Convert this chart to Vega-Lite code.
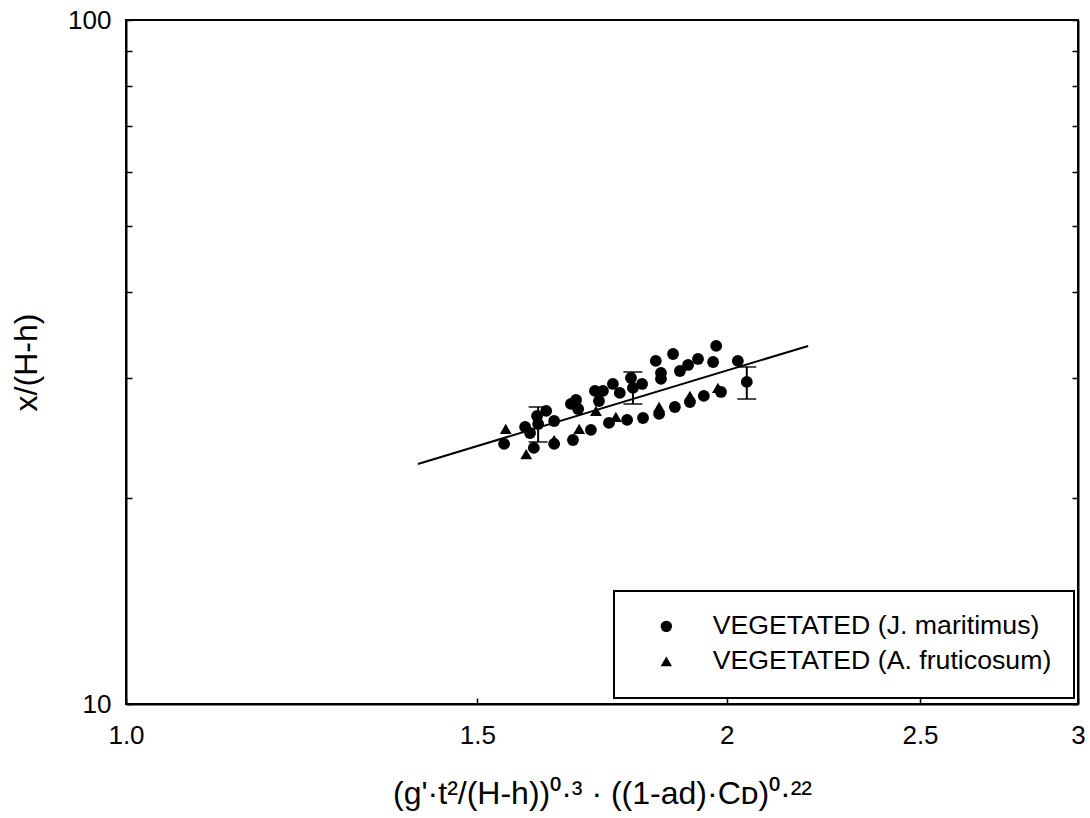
{
  "$schema": "https://vega.github.io/schema/vega-lite/v6.json",
  "width": 952,
  "height": 684,
  "autosize": {"type": "none"},
  "padding": {"left": 126, "top": 20, "right": 12, "bottom": 114},
  "background": "white",
  "config": {
    "font": "Liberation Sans",
    "view": {"stroke": "black", "strokeWidth": 2},
    "legend": {"strokeColor": "black", "strokeWidth": 2},
    "axis": {
      "grid": false,
      "domainColor": "black",
      "domainWidth": 2,
      "tickColor": "black",
      "tickWidth": 1.5,
      "tickSize": -6,
      "labelColor": "black",
      "labelFont": "Liberation Sans",
      "labelFontSize": 26,
      "labelFlush": false,
      "labelOverlap": false,
      "titleColor": "black",
      "titleFont": "Liberation Sans",
      "titleFontSize": 32,
      "titleFontWeight": "normal"
    },
    "axisX": {
      "labelExpr": "datum.value == 1 ? '1.0' : toString(datum.value)",
      "labelPadding": 24,
      "titlePadding": 30
    }
  },
  "datasets": {
    "points": [
      {"x": 1.585, "y": 25.41, "series": "VEGETATED (J. maritimus)"},
      {"x": 1.594, "y": 24.90, "series": "VEGETATED (J. maritimus)"},
      {"x": 1.607, "y": 26.37, "series": "VEGETATED (J. maritimus)"},
      {"x": 1.609, "y": 25.67, "series": "VEGETATED (J. maritimus)"},
      {"x": 1.624, "y": 26.82, "series": "VEGETATED (J. maritimus)"},
      {"x": 1.639, "y": 25.93, "series": "VEGETATED (J. maritimus)"},
      {"x": 1.671, "y": 27.46, "series": "VEGETATED (J. maritimus)"},
      {"x": 1.681, "y": 27.83, "series": "VEGETATED (J. maritimus)"},
      {"x": 1.685, "y": 27.00, "series": "VEGETATED (J. maritimus)"},
      {"x": 1.718, "y": 28.69, "series": "VEGETATED (J. maritimus)"},
      {"x": 1.734, "y": 28.69, "series": "VEGETATED (J. maritimus)"},
      {"x": 1.726, "y": 27.73, "series": "VEGETATED (J. maritimus)"},
      {"x": 1.754, "y": 29.37, "series": "VEGETATED (J. maritimus)"},
      {"x": 1.768, "y": 28.50, "series": "VEGETATED (J. maritimus)"},
      {"x": 1.791, "y": 29.97, "series": "VEGETATED (J. maritimus)"},
      {"x": 1.795, "y": 28.98, "series": "VEGETATED (J. maritimus)"},
      {"x": 1.814, "y": 29.37, "series": "VEGETATED (J. maritimus)"},
      {"x": 1.843, "y": 31.74, "series": "VEGETATED (J. maritimus)"},
      {"x": 1.854, "y": 30.47, "series": "VEGETATED (J. maritimus)"},
      {"x": 1.854, "y": 29.87, "series": "VEGETATED (J. maritimus)"},
      {"x": 1.880, "y": 32.49, "series": "VEGETATED (J. maritimus)"},
      {"x": 1.895, "y": 30.68, "series": "VEGETATED (J. maritimus)"},
      {"x": 1.913, "y": 31.31, "series": "VEGETATED (J. maritimus)"},
      {"x": 1.935, "y": 31.95, "series": "VEGETATED (J. maritimus)"},
      {"x": 1.969, "y": 31.62, "series": "VEGETATED (J. maritimus)"},
      {"x": 1.976, "y": 33.38, "series": "VEGETATED (J. maritimus)"},
      {"x": 2.026, "y": 31.74, "series": "VEGETATED (J. maritimus)"},
      {"x": 2.047, "y": 29.57, "series": "VEGETATED (J. maritimus)"},
      {"x": 1.547, "y": 24.00, "series": "VEGETATED (J. maritimus)"},
      {"x": 1.601, "y": 23.68, "series": "VEGETATED (J. maritimus)"},
      {"x": 1.639, "y": 24.00, "series": "VEGETATED (J. maritimus)"},
      {"x": 1.675, "y": 24.32, "series": "VEGETATED (J. maritimus)"},
      {"x": 1.710, "y": 25.16, "series": "VEGETATED (J. maritimus)"},
      {"x": 1.746, "y": 25.76, "series": "VEGETATED (J. maritimus)"},
      {"x": 1.783, "y": 26.02, "series": "VEGETATED (J. maritimus)"},
      {"x": 1.816, "y": 26.19, "series": "VEGETATED (J. maritimus)"},
      {"x": 1.850, "y": 26.55, "series": "VEGETATED (J. maritimus)"},
      {"x": 1.884, "y": 27.18, "series": "VEGETATED (J. maritimus)"},
      {"x": 1.917, "y": 27.64, "series": "VEGETATED (J. maritimus)"},
      {"x": 1.948, "y": 28.21, "series": "VEGETATED (J. maritimus)"},
      {"x": 1.987, "y": 28.59, "series": "VEGETATED (J. maritimus)"},
      {"x": 1.550, "y": 25.24, "series": "VEGETATED (A. fruticosum)"},
      {"x": 1.587, "y": 23.20, "series": "VEGETATED (A. fruticosum)"},
      {"x": 1.639, "y": 24.32, "series": "VEGETATED (A. fruticosum)"},
      {"x": 1.687, "y": 25.24, "series": "VEGETATED (A. fruticosum)"},
      {"x": 1.720, "y": 26.82, "series": "VEGETATED (A. fruticosum)"},
      {"x": 1.760, "y": 26.28, "series": "VEGETATED (A. fruticosum)"},
      {"x": 1.850, "y": 27.18, "series": "VEGETATED (A. fruticosum)"},
      {"x": 1.917, "y": 28.21, "series": "VEGETATED (A. fruticosum)"},
      {"x": 1.980, "y": 28.98, "series": "VEGETATED (A. fruticosum)"}
    ],
    "fit": [
      {"x": 1.4006, "y": 22.43},
      {"x": 2.1972, "y": 33.38}
    ],
    "errors": [
      {"x": 1.609, "lo": 24.16, "hi": 27.18},
      {"x": 1.795, "lo": 27.46, "hi": 30.58},
      {"x": 2.047, "lo": 27.92, "hi": 31.10}
    ]
  },
  "resolve": {"axis": {"y": "independent"}},
  "layer": [
    {
      "data": {"name": "fit"},
      "mark": {"type": "line", "color": "black", "strokeWidth": 2},
      "encoding": {
        "x": {
          "field": "x", "type": "quantitative",
          "scale": {"type": "log", "domain": [1, 3], "nice": false},
          "title": "(g'·t²/(H-h))⁰·³ · ((1-ad)·Cᴅ)⁰·²²",
          "axis": {"values": [1, 1.5, 2, 2.5, 3]}
        },
        "y": {
          "field": "y", "type": "quantitative",
          "scale": {"type": "log", "domain": [10, 100], "nice": false},
          "axis": {
            "orient": "left",
            "values": [10, 20, 30, 40, 50, 60, 70, 80, 90, 100],
            "labelExpr": "datum.value == 10 || datum.value == 100 ? toString(datum.value) : ''",
            "labelPadding": 21,
            "title": "x/(H-h)",
            "titlePadding": 24
          }
        }
      }
    },
    {
      "data": {"name": "errors"},
      "mark": {"type": "rule", "color": "black", "strokeWidth": 2},
      "encoding": {
        "x": {"field": "x", "type": "quantitative", "title": "(g'·t²/(H-h))⁰·³ · ((1-ad)·Cᴅ)⁰·²²", "axis": {"values": [1, 1.5, 2, 2.5, 3]}},
        "y": {"field": "lo", "type": "quantitative", "axis": null},
        "y2": {"field": "hi"}
      }
    },
    {
      "data": {"name": "errors"},
      "mark": {"type": "tick", "color": "black", "orient": "horizontal", "size": 19, "thickness": 2},
      "encoding": {
        "x": {"field": "x", "type": "quantitative", "title": "(g'·t²/(H-h))⁰·³ · ((1-ad)·Cᴅ)⁰·²²", "axis": {"values": [1, 1.5, 2, 2.5, 3]}},
        "y": {"field": "lo", "type": "quantitative", "axis": null}
      }
    },
    {
      "data": {"name": "errors"},
      "mark": {"type": "tick", "color": "black", "orient": "horizontal", "size": 19, "thickness": 2},
      "encoding": {
        "x": {"field": "x", "type": "quantitative", "title": "(g'·t²/(H-h))⁰·³ · ((1-ad)·Cᴅ)⁰·²²", "axis": {"values": [1, 1.5, 2, 2.5, 3]}},
        "y": {"field": "hi", "type": "quantitative", "axis": null}
      }
    },
    {
      "data": {"name": "points"},
      "mark": {"type": "point", "filled": true, "color": "black", "size": 140, "opacity": 1},
      "encoding": {
        "x": {"field": "x", "type": "quantitative", "title": "(g'·t²/(H-h))⁰·³ · ((1-ad)·Cᴅ)⁰·²²", "axis": {"values": [1, 1.5, 2, 2.5, 3]}},
        "y": {
          "field": "y", "type": "quantitative",
          "axis": {
            "orient": "right",
            "values": [10, 20, 30, 40, 50, 60, 70, 80, 90, 100],
            "labels": false,
            "title": null
          }
        },
        "shape": {
          "field": "series", "type": "nominal",
          "scale": {
            "domain": ["VEGETATED (J. maritimus)", "VEGETATED (A. fruticosum)"],
            "range": ["circle", "triangle-up"]
          },
          "legend": {
            "orient": "none",
            "legendX": 488,
            "legendY": 571,
            "title": null,
            "fillColor": "white",
            "padding": 22,
            "rowPadding": 7,
            "symbolOffset": 17,
            "symbolSize": 130,
            "symbolFillColor": "black",
            "symbolStrokeColor": "black",
            "symbolOpacity": 1,
            "labelFont": "Liberation Sans",
            "labelFontSize": 26.7,
            "labelColor": "black",
            "labelOffset": 33,
            "labelLimit": 600
          }
        }
      }
    }
  ]
}
